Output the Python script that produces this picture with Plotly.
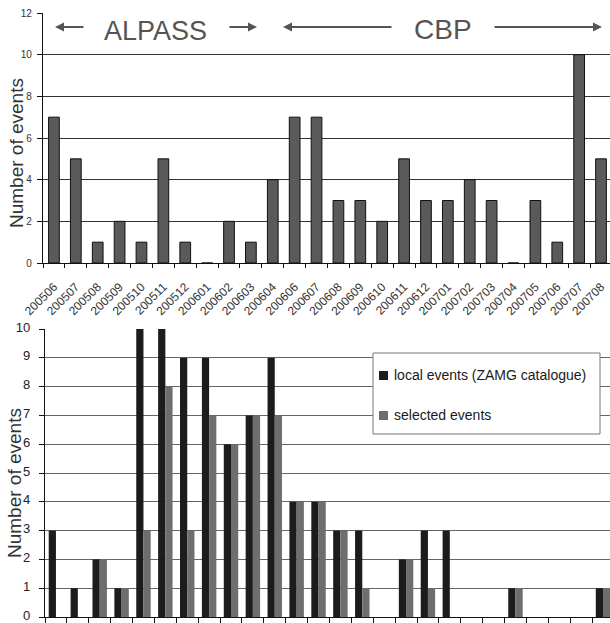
import plotly.graph_objects as go

months = ["200506", "200507", "200508", "200509", "200510", "200511", "200512",
          "200601", "200602", "200603", "200604", "200606", "200607", "200608",
          "200609", "200610", "200611", "200612", "200701", "200702", "200703",
          "200704", "200705", "200706", "200707", "200708"]
events_top = [7, 5, 1, 2, 1, 5, 1, 0, 2, 1, 4, 7, 7, 3, 3, 2, 5, 3, 3, 4, 3, 0, 3, 1, 10, 5]

local_events = [3, 1, 2, 1, 10, 10, 9, 9, 6, 7, 9, 4, 4, 3, 3, 0, 2, 3, 3, 0, 0, 1, 0, 0, 0, 1]
selected_events = [0, 0, 2, 1, 3, 8, 3, 7, 6, 7, 7, 4, 4, 3, 1, 0, 2, 1, 0, 0, 0, 1, 0, 0, 0, 1]

W, H = 610, 623
FONT = "Liberation Sans, Arial, sans-serif"

fig = go.Figure()
fig.add_trace(go.Bar(x=months, y=events_top, width=0.49,
                     marker=dict(color="#5a5a5a", line=dict(color="#111111", width=1)),
                     xaxis="x", yaxis="y", showlegend=False))
fig.add_trace(go.Bar(x=months, y=local_events, width=0.33, offset=-0.33,
                     marker=dict(color="#1c1c1c", line=dict(width=0)),
                     name="local events (ZAMG catalogue)",
                     xaxis="x2", yaxis="y2", showlegend=False))
fig.add_trace(go.Bar(x=months, y=selected_events, width=0.33, offset=0.0,
                     marker=dict(color="#6e6e6e", line=dict(width=0)),
                     name="selected events",
                     xaxis="x2", yaxis="y2", showlegend=False))

def py(p):
    return 1 - p / H

def px(p):
    return p / W

top_dom = [py(263), py(13)]
bot_dom = [py(617), py(329)]
top_range = [-0.5, 25.41]
bot_range = [-0.5, 25.32]
boundaries = [i - 0.5 for i in range(len(months) + 1)]

fig.update_layout(
    width=W, height=H,
    margin=dict(l=0, r=0, t=0, b=0, pad=0),
    paper_bgcolor="white", plot_bgcolor="white",
    font=dict(family=FONT, color="#222222"),
    barmode="overlay",
    xaxis=dict(domain=[px(43), 1], type="category", categoryorder="array",
               categoryarray=months, range=top_range, automargin=False,
               ticks="", tickangle=-45, ticklabelstandoff=11,
               tickfont=dict(size=12, color="#333333"),
               showline=True, linecolor="#111", linewidth=1.2, showgrid=False),
    xaxis3=dict(domain=[px(43), 1], anchor="y", overlaying="x", side="bottom",
                type="linear", range=top_range, automargin=False,
                tickmode="array", tickvals=boundaries, ticks="outside", ticklen=4,
                tickcolor="#111", showticklabels=False, showgrid=False,
                zeroline=False, showline=False),
    yaxis=dict(domain=top_dom, range=[0, 12], dtick=2, ticks="outside", ticklen=5,
               tickcolor="#111", tickfont=dict(size=10, color="#333"), automargin=False,
               ticklabeloverflow="allow", ticklabelstandoff=3,
               showline=True, linecolor="#111", linewidth=1.2,
               showgrid=True, gridcolor="#333333", gridwidth=1.3, zeroline=False),
    xaxis2=dict(domain=[px(45), 1], anchor="y2", type="category", categoryorder="array",
                categoryarray=months, range=bot_range, automargin=False,
                ticks="", showticklabels=False,
                showline=True, linecolor="#111", linewidth=1.2, showgrid=False),
    xaxis4=dict(domain=[px(45), 1], anchor="y2", overlaying="x2", side="bottom",
                type="linear", range=bot_range, automargin=False,
                tickmode="array", tickvals=boundaries, ticks="outside", ticklen=5,
                tickcolor="#111", showticklabels=False, showgrid=False,
                zeroline=False, showline=False),
    yaxis2=dict(domain=bot_dom, anchor="x2", range=[0, 10], dtick=1, ticks="outside",
                ticklen=5, tickcolor="#111", automargin=False,
                ticklabeloverflow="allow", ticklabelposition="outside",
                ticklabelstandoff=6, ticklabelshift=-2,
                tickfont=dict(size=13, color="#222"),
                showline=True, linecolor="#111", linewidth=1.2,
                showgrid=True, gridcolor="#666666", gridwidth=1.3, zeroline=False),
)

# invisible helper traces so the tick-only axes are rendered
fig.add_trace(go.Scatter(x=top_range, y=[None, None], xaxis="x3", yaxis="y",
                         mode="lines", showlegend=False, hoverinfo="skip"))
fig.add_trace(go.Scatter(x=bot_range, y=[None, None], xaxis="x4", yaxis="y2",
                         mode="lines", showlegend=False, hoverinfo="skip"))

ann = []
# Axis titles
for xc, yc in ((16, 153), (14, 483)):
    ann.append(dict(x=px(xc), y=py(yc), xref="paper", yref="paper",
                    text="Number of events", textangle=-90, showarrow=False,
                    xanchor="center", yanchor="middle",
                    font=dict(size=19, color="#333333", family=FONT)))

# Period annotations (top chart)
ann.append(dict(x=px(155), y=py(31), xref="paper", yref="paper", text="ALPASS",
                xanchor="center", yanchor="middle",
                showarrow=False, font=dict(size=27, color="#555555", family=FONT)))
ann.append(dict(x=px(443), y=py(30), xref="paper", yref="paper", text="CBP",
                xanchor="center", yanchor="middle",
                showarrow=False, font=dict(size=28, color="#555555", family=FONT)))
for tip, tail in [(55, 85), (257, 228), (283, 393), (602, 493)]:
    ann.append(dict(x=px(tip), y=py(27), xref="paper", yref="paper", text="",
                    showarrow=True, ax=tail - tip, ay=0, arrowhead=2, arrowsize=1,
                    arrowwidth=1.8, arrowcolor="#555555"))

# Legend (bottom chart)
shapes = [
    dict(type="rect", xref="paper", yref="paper", x0=px(373), x1=px(600),
         y0=py(434), y1=py(353), line=dict(color="#777777", width=1),
         fillcolor="white", layer="above"),
    dict(type="rect", xref="paper", yref="paper", x0=px(379), x1=px(388),
         y0=py(380), y1=py(371), line=dict(width=0), fillcolor="#1c1c1c", layer="above"),
    dict(type="rect", xref="paper", yref="paper", x0=px(379), x1=px(388),
         y0=py(420), y1=py(411), line=dict(width=0), fillcolor="#6e6e6e", layer="above"),
]
ann.append(dict(x=px(392), y=py(375), xref="paper", yref="paper", xanchor="left",
                yanchor="middle",
                text="local events (ZAMG catalogue)", showarrow=False,
                font=dict(size=14, color="#1a1a1a", family=FONT)))
ann.append(dict(x=px(392), y=py(415), xref="paper", yref="paper", xanchor="left",
                yanchor="middle",
                text="selected events", showarrow=False,
                font=dict(size=14, color="#1a1a1a", family=FONT)))

fig.update_layout(annotations=ann, shapes=shapes)
fig.write_html("out.html")
